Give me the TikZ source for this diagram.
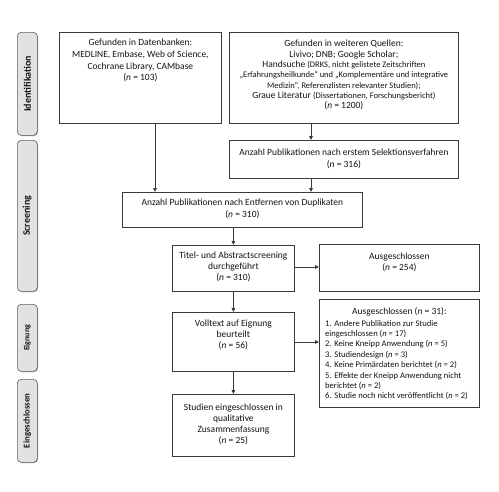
\documentclass[tikz,border=0pt]{standalone}
\usepackage{fontspec}
\setmainfont{Carlito}
\usetikzlibrary{arrows.meta,calc}
\definecolor{linec}{HTML}{3A3A3A}
\definecolor{sidefill}{HTML}{E2E2E2}
\definecolor{shadowc}{HTML}{9A9A9A}
\definecolor{txtc}{HTML}{141414}
\begin{document}
\begin{tikzpicture}[x=1pt,y=-1pt,
  box/.style={draw=linec, line width=0.8pt, fill=white, inner sep=0pt, anchor=north west},
  side/.style={draw=linec!80, line width=0.6pt, fill=sidefill, rounded corners=4pt, inner sep=0pt, anchor=north west},
  sideshadow/.style={fill=shadowc, rounded corners=4pt, draw=none},
  txt/.style={inner sep=0pt, align=center, text=txtc, font=\fontsize{9.5}{11}\selectfont, anchor=north},
  sidetxt/.style={inner sep=0pt, text=txtc, rotate=90},
  arr/.style={draw=linec, line width=0.8pt, -{Triangle[length=4pt,width=3.6pt]}}
]
\useasboundingbox (0,0) rectangle (499,491);
\newcommand{\sm}{\fontsize{8.5}{10.3}\selectfont}

% side labels
\fill[sideshadow] (18,33) rectangle (38,136);
\node[side, minimum width=20pt, minimum height=103pt] (s1) at (17,32) {};
\node[sidetxt, font=\fontsize{10}{12}\selectfont\bfseries] (ts1) at (s1.center) {Identifikation};
\fill[sideshadow] (18,141) rectangle (38,292);
\node[side, minimum width=20pt, minimum height=151pt] (s2) at (17,140) {};
\node[sidetxt, font=\fontsize{10}{12}\selectfont\bfseries] (ts2) at (s2.center) {Screening};
\fill[sideshadow] (18,305) rectangle (38,372);
\node[side, minimum width=20pt, minimum height=67pt] (s3) at (17,304) {};
\node[sidetxt, font=\fontsize{8}{10}\selectfont\bfseries] (ts3) at (s3.center) {Eignung};
\fill[sideshadow] (18,380) rectangle (38,463);
\node[side, minimum width=20pt, minimum height=83pt] (s4) at (17,379) {};
\node[sidetxt, font=\fontsize{8.8}{11}\selectfont\bfseries] (ts4) at (s4.center) {Eingeschlossen};

% main boxes
\node[box, minimum width=162pt, minimum height=91pt] (b1) at (59,32) {};
\node[txt, font=\fontsize{9.5}{11.7}\selectfont] (t1) at ($(b1.north)+(0,7)$) {Gefunden in Datenbanken:\\MEDLINE, Embase, Web of Science,\\Cochrane Library, CAMbase\\(\textit{n} = 103)};

\node[box, minimum width=229pt, minimum height=91pt] (b2) at (229,32) {};
\node[txt, font=\fontsize{9.5}{10.3}\selectfont] (t2) at ($(b2.north)+(0,8)$) {Gefunden in weiteren Quellen:\\Livivo; DNB; Google Scholar;\\Handsuche {\sm(DRKS, nicht gelistete Zeitschriften}\\{\sm„Erfahrungsheilkunde“ und „Komplementäre und integrative}\\{\sm Medizin“, Referenzlisten relevanter Studien);}\\Graue Literatur {\sm(Dissertationen, Forschungsbericht)}\\(\textit{n} = 1200)};

\node[box, minimum width=229pt, minimum height=38pt] (b3) at (229,140) {};
\node[txt, font=\fontsize{9.5}{12}\selectfont] (t3) at ($(b3.north)+(0,9)$) {Anzahl Publikationen nach erstem Selektionsverfahren\\(\textit{n} = 316)};

\node[box, minimum width=240pt, minimum height=35pt] (b4) at (122,192) {};
\node[txt, font=\fontsize{9.5}{12}\selectfont] (t4) at ($(b4.north)+(0,7)$) {Anzahl Publikationen nach Entfernen von Duplikaten\\(\textit{n} = 310)};

\node[box, minimum width=122pt, minimum height=46pt] (b5) at (172,245) {};
\node[txt] (t5) at ($(b5.north)+(0,7)$) {Titel- und Abstractscreening\\durchgeführt\\(\textit{n} = 310)};

\node[box, minimum width=160pt, minimum height=47pt] (b6) at (319,244) {};
\node[txt, font=\fontsize{9.5}{10.5}\selectfont] (t6) at ($(b6.north)+(0,9)$) {Ausgeschlossen\\(\textit{n} = 254)};

\node[box, minimum width=122pt, minimum height=59pt] (b7) at (172,312) {};
\node[txt] (t7) at ($(b7.north)+(0,8)$) {Volltext auf Eignung\\beurteilt\\(\textit{n} = 56)};

\node[box, minimum width=160pt, minimum height=108pt] (b8) at (319,299) {};
\node[txt] (t8h) at ($(b8.north)+(0,8)$) {Ausgeschlossen (\textit{n} = 31):};
\node[txt, anchor=north west, align=left, font=\fontsize{8.6}{10.4}\selectfont] (t8) at ($(b8.north west)+(6,21)$) {1. Andere Publikation zur Studie\\eingeschlossen (\textit{n} = 17)\\2. Keine Kneipp Anwendung (\textit{n} = 5)\\3. Studiendesign (\textit{n} = 3)\\4. Keine Primärdaten berichtet (\textit{n} = 2)\\5. Effekte der Kneipp Anwendung nicht\\berichtet (\textit{n} = 2)\\6. Studie noch nicht veröffentlicht (\textit{n} = 2)};

\node[box, minimum width=122pt, minimum height=62pt] (b9) at (172,394) {};
\node[txt] (t9) at ($(b9.north)+(0,10)$) {Studien eingeschlossen in\\qualitative\\Zusammenfassung\\(\textit{n} = 25)};

% connectors
\coordinate (xa) at (155,0);
\coordinate (xb) at (311,0);
\coordinate (ya) at (0,267);
\coordinate (yb) at (0,342);
\draw[arr] (b1.south -| xa) -- (b4.north -| xa);
\draw[arr] (b2.south -| xb) -- (b3.north -| xb);
\draw[arr] (b3.south -| xb) -- (b4.north -| xb);
\draw[arr] (b4.south -| b5.north) -- (b5.north);
\draw[arr] (b5.east |- ya) -- (b6.west |- ya);
\draw[arr] (b5.south) -- (b7.north);
\draw[arr] (b7.east |- yb) -- (b8.west |- yb);
\draw[arr] (b7.south) -- (b9.north);
\end{tikzpicture}
\end{document}
